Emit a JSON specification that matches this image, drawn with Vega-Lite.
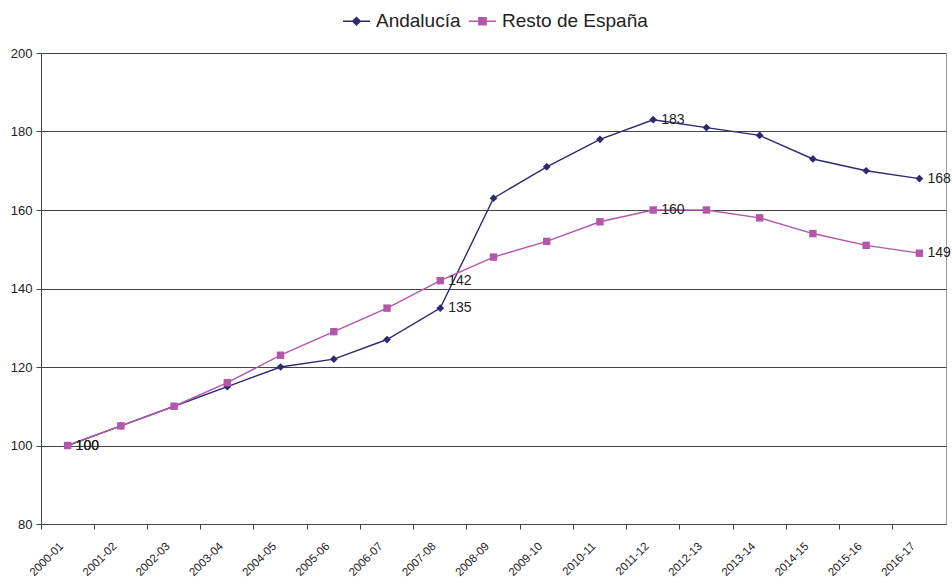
{
  "$schema": "https://vega.github.io/schema/vega-lite/v6.json",
  "width": 905,
  "height": 471,
  "autosize": {"type": "none"},
  "padding": {"left": 41, "top": 53, "right": 6, "bottom": 53},
  "background": "white",
  "config": {
    "font": "Liberation Sans",
    "view": {"stroke": "#999999", "strokeWidth": 1},
    "axis": {"labelFont": "Liberation Sans", "labelColor": "#222222", "labelFontSize": 13, "domainColor": "#444444", "tickColor": "#444444", "title": null}
  },
  "data": {
    "values": [
      {"periodo": "2000-01", "serie": "Andalucía", "valor": 100},
      {"periodo": "2001-02", "serie": "Andalucía", "valor": 105},
      {"periodo": "2002-03", "serie": "Andalucía", "valor": 110},
      {"periodo": "2003-04", "serie": "Andalucía", "valor": 115},
      {"periodo": "2004-05", "serie": "Andalucía", "valor": 120},
      {"periodo": "2005-06", "serie": "Andalucía", "valor": 122},
      {"periodo": "2006-07", "serie": "Andalucía", "valor": 127},
      {"periodo": "2007-08", "serie": "Andalucía", "valor": 135},
      {"periodo": "2008-09", "serie": "Andalucía", "valor": 163},
      {"periodo": "2009-10", "serie": "Andalucía", "valor": 171},
      {"periodo": "2010-11", "serie": "Andalucía", "valor": 178},
      {"periodo": "2011-12", "serie": "Andalucía", "valor": 183},
      {"periodo": "2012-13", "serie": "Andalucía", "valor": 181},
      {"periodo": "2013-14", "serie": "Andalucía", "valor": 179},
      {"periodo": "2014-15", "serie": "Andalucía", "valor": 173},
      {"periodo": "2015-16", "serie": "Andalucía", "valor": 170},
      {"periodo": "2016-17", "serie": "Andalucía", "valor": 168},
      {"periodo": "2000-01", "serie": "Resto de España", "valor": 100},
      {"periodo": "2001-02", "serie": "Resto de España", "valor": 105},
      {"periodo": "2002-03", "serie": "Resto de España", "valor": 110},
      {"periodo": "2003-04", "serie": "Resto de España", "valor": 116},
      {"periodo": "2004-05", "serie": "Resto de España", "valor": 123},
      {"periodo": "2005-06", "serie": "Resto de España", "valor": 129},
      {"periodo": "2006-07", "serie": "Resto de España", "valor": 135},
      {"periodo": "2007-08", "serie": "Resto de España", "valor": 142},
      {"periodo": "2008-09", "serie": "Resto de España", "valor": 148},
      {"periodo": "2009-10", "serie": "Resto de España", "valor": 152},
      {"periodo": "2010-11", "serie": "Resto de España", "valor": 157},
      {"periodo": "2011-12", "serie": "Resto de España", "valor": 160},
      {"periodo": "2012-13", "serie": "Resto de España", "valor": 160},
      {"periodo": "2013-14", "serie": "Resto de España", "valor": 158},
      {"periodo": "2014-15", "serie": "Resto de España", "valor": 154},
      {"periodo": "2015-16", "serie": "Resto de España", "valor": 151},
      {"periodo": "2016-17", "serie": "Resto de España", "valor": 149}
    ]
  },
  "encoding": {
    "x": {
      "field": "periodo", "type": "ordinal",
      "scale": {"type": "band", "paddingInner": 0, "paddingOuter": 0},
      "axis": {"bandPosition": 0, "labelAngle": -45, "labelAlign": "right", "labelBaseline": "top", "labelFontSize": 11.5, "labelPadding": 11, "tickSize": 5, "grid": false, "labelOffset": -10}
    },
    "y": {
      "field": "valor", "type": "quantitative",
      "scale": {"domain": [80, 200], "nice": false, "zero": false},
      "axis": {"values": [80, 100, 120, 140, 160, 180, 200], "grid": true, "gridColor": "#444444", "gridWidth": 1, "tickSize": 5, "labelPadding": 4}
    },
    "color": {
      "field": "serie", "type": "nominal",
      "scale": {"domain": ["Andalucía", "Resto de España"], "range": ["#2D2A70", "#B456AA"]},
      "legend": {
        "title": null, "orient": "none", "direction": "horizontal",
        "legendX": 301, "legendY": -46.5,
        "labelFontSize": 19, "labelFont": "Liberation Sans", "labelColor": "#222222",
        "symbolSize": 729, "symbolStrokeWidth": 1.4, "columnPadding": 5, "labelOffset": 5,
        "encode": {
          "symbols": {
            "update": {
              "shape": {"signal": "datum.value === 'Andalucía' ? 'M-1,0H1M0,-0.28L0.28,0L0,0.28L-0.28,0Z' : 'M-1,0H1M-0.27,-0.27H0.27V0.27H-0.27Z'"},
              "fill": {"signal": "datum.value === 'Andalucía' ? '#2D2A70' : '#B456AA'"},
              "stroke": {"signal": "datum.value === 'Andalucía' ? '#2D2A70' : '#B456AA'"},
              "strokeWidth": {"value": 1.4},
              "fillOpacity": {"value": 1},
              "strokeOpacity": {"value": 1},
              "opacity": {"value": 1}
            }
          }
        }
      }
    }
  },
  "layer": [
    {
      "mark": {"type": "line", "strokeWidth": 1.4}
    },
    {
      "transform": [{"filter": "datum.serie === 'Andalucía'"}],
      "mark": {"type": "point", "filled": true, "opacity": 1, "shape": "diamond", "size": 60}
    },
    {
      "transform": [{"filter": "datum.serie === 'Resto de España'"}],
      "mark": {"type": "point", "filled": true, "opacity": 1, "shape": "square", "size": 55}
    },
    {
      "transform": [{"filter": "indexof(['2000-01','2007-08','2011-12','2016-17'], datum.periodo) >= 0"}],
      "mark": {"type": "text", "align": "left", "baseline": "middle", "dx": 8, "fontSize": 14, "font": "Liberation Sans", "color": "#222222"},
      "encoding": {
        "text": {"field": "valor", "type": "quantitative"},
        "color": {"value": "#222222"}
      }
    }
  ]
}
